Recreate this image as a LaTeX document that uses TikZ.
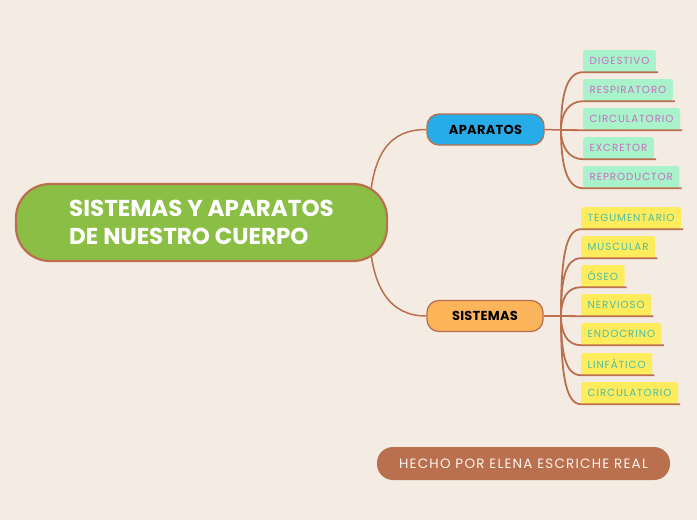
\documentclass[tikz,border=0pt]{standalone}
\usepackage{fontspec}
\setmainfont{Poppins}
\usetikzlibrary{backgrounds}
\definecolor{bg}{RGB}{244,235,227}
\definecolor{brn}{RGB}{186,112,78}
\definecolor{mgreen}{RGB}{139,190,69}
\definecolor{ablue}{RGB}{40,172,232}
\definecolor{sorange}{RGB}{253,181,91}
\definecolor{mint}{RGB}{168,242,204}
\definecolor{pinktx}{RGB}{200,110,190}
\definecolor{yel}{RGB}{255,236,92}
\definecolor{tealtx}{RGB}{72,190,168}
\definecolor{foottx}{RGB}{252,244,238}
\tikzset{
  mainbox/.style={draw=brn, line width=2.2pt, fill=mgreen, rounded corners=34pt,
    minimum width=371pt, minimum height=77pt, align=left, text=white,
    font=\fontsize{23}{28}\selectfont\bfseries},
  subbox/.style={draw=brn, line width=1.3pt, rounded corners=12pt,
    minimum height=31pt, text=black, font=\fontsize{13}{15}\selectfont\bfseries\addfontfeature{LetterSpace=2}},
  leafbox/.style={anchor=west, minimum height=22pt, inner xsep=6.5pt, inner ysep=0pt,
    rounded corners=2.5pt, font=\fontsize{10.3}{12}\selectfont\addfontfeature{LetterSpace=9}},
  aleaf/.style={leafbox, fill=mint, text=pinktx},
  sleaf/.style={leafbox, fill=yel, text=tealtx},
  conn/.style={draw=brn, line width=1.5pt},
  ul/.style={draw=brn, line width=1.8pt},
  footbox/.style={fill=brn, rounded corners=16pt, minimum width=293pt, minimum height=33pt,
    text=foottx, font=\fontsize{13.5}{15}\selectfont\addfontfeature{LetterSpace=9}}
}
\begin{document}
\begin{tikzpicture}[x=1pt,y=-1pt]
\useasboundingbox (0,0) rectangle (697,520);
\begin{pgfonlayer}{background}
\fill[bg] (0,0) rectangle (697,520);
\end{pgfonlayer}

\node[mainbox] (main) at (201.5,222.5) {SISTEMAS Y APARATOS\\DE NUESTRO CUERPO};
\node[subbox, fill=ablue, minimum width=117pt] (apar) at (485.5,129.5) {APARATOS};
\node[subbox, fill=sorange, minimum width=116pt] (sist) at (485,316) {SISTEMAS};

\coordinate (fa) at (561,130);
\coordinate (fs) at (561,316);

\node[aleaf] (a1) at (583,61) {DIGESTIVO};
\node[aleaf] (a2) at (583,90) {RESPIRATORO};
\node[aleaf] (a3) at (583,119) {CIRCULATORIO};
\node[aleaf] (a4) at (583,148) {EXCRETOR};
\node[aleaf] (a5) at (583,177) {REPRODUCTOR};

\node[sleaf] (s1) at (581,218) {TEGUMENTARIO};
\node[sleaf] (s2) at (581,247) {MUSCULAR};
\node[sleaf] (s3) at (581,276) {ÓSEO};
\node[sleaf] (s4) at (581,305) {NERVIOSO};
\node[sleaf] (s5) at (581,334) {ENDOCRINO};
\node[sleaf] (s6) at (581,364) {LINFÁTICO};
\node[sleaf] (s7) at (581,393) {CIRCULATORIO};

\node[footbox] (foot) at (523.5,463.5) {HECHO POR ELENA ESCRICHE REAL};

\begin{pgfonlayer}{background}
\draw[conn] ([xshift=-19pt]main.east) .. controls +(0,-72) and +(-35,0) .. (apar.west);
\draw[conn] ([xshift=-19pt]main.east) .. controls +(0,68) and +(-35,0) .. (sist.west);
\draw[conn] (apar.east) -- (fa);
\draw[conn] (sist.east) -- (fs);
\end{pgfonlayer}

\draw[ul] (fa) .. controls +(0,-36) and +(-16,0) .. (a1.south west) -- ([xshift=2pt]a1.south east);
\draw[ul] (fa) .. controls +(0,-17) and +(-14,0) .. (a2.south west) -- ([xshift=2pt]a2.south east);
\draw[ul] (fa) -- (a3.south west) -- ([xshift=2pt]a3.south east);
\draw[ul] (fa) .. controls +(0,17) and +(-14,0) .. (a4.south west) -- ([xshift=2pt]a4.south east);
\draw[ul] (fa) .. controls +(0,36) and +(-16,0) .. (a5.south west) -- ([xshift=2pt]a5.south east);

\draw[ul] (fs) .. controls +(0,-55) and +(-16,0) .. (s1.south west) -- ([xshift=2pt]s1.south east);
\draw[ul] (fs) .. controls +(0,-36) and +(-16,0) .. (s2.south west) -- ([xshift=2pt]s2.south east);
\draw[ul] (fs) .. controls +(0,-17) and +(-14,0) .. (s3.south west) -- ([xshift=2pt]s3.south east);
\draw[ul] (fs) -- (s4.south west) -- ([xshift=2pt]s4.south east);
\draw[ul] (fs) .. controls +(0,17) and +(-14,0) .. (s5.south west) -- ([xshift=2pt]s5.south east);
\draw[ul] (fs) .. controls +(0,36) and +(-16,0) .. (s6.south west) -- ([xshift=2pt]s6.south east);
\draw[ul] (fs) .. controls +(0,55) and +(-16,0) .. (s7.south west) -- ([xshift=2pt]s7.south east);
\end{tikzpicture}
\end{document}
